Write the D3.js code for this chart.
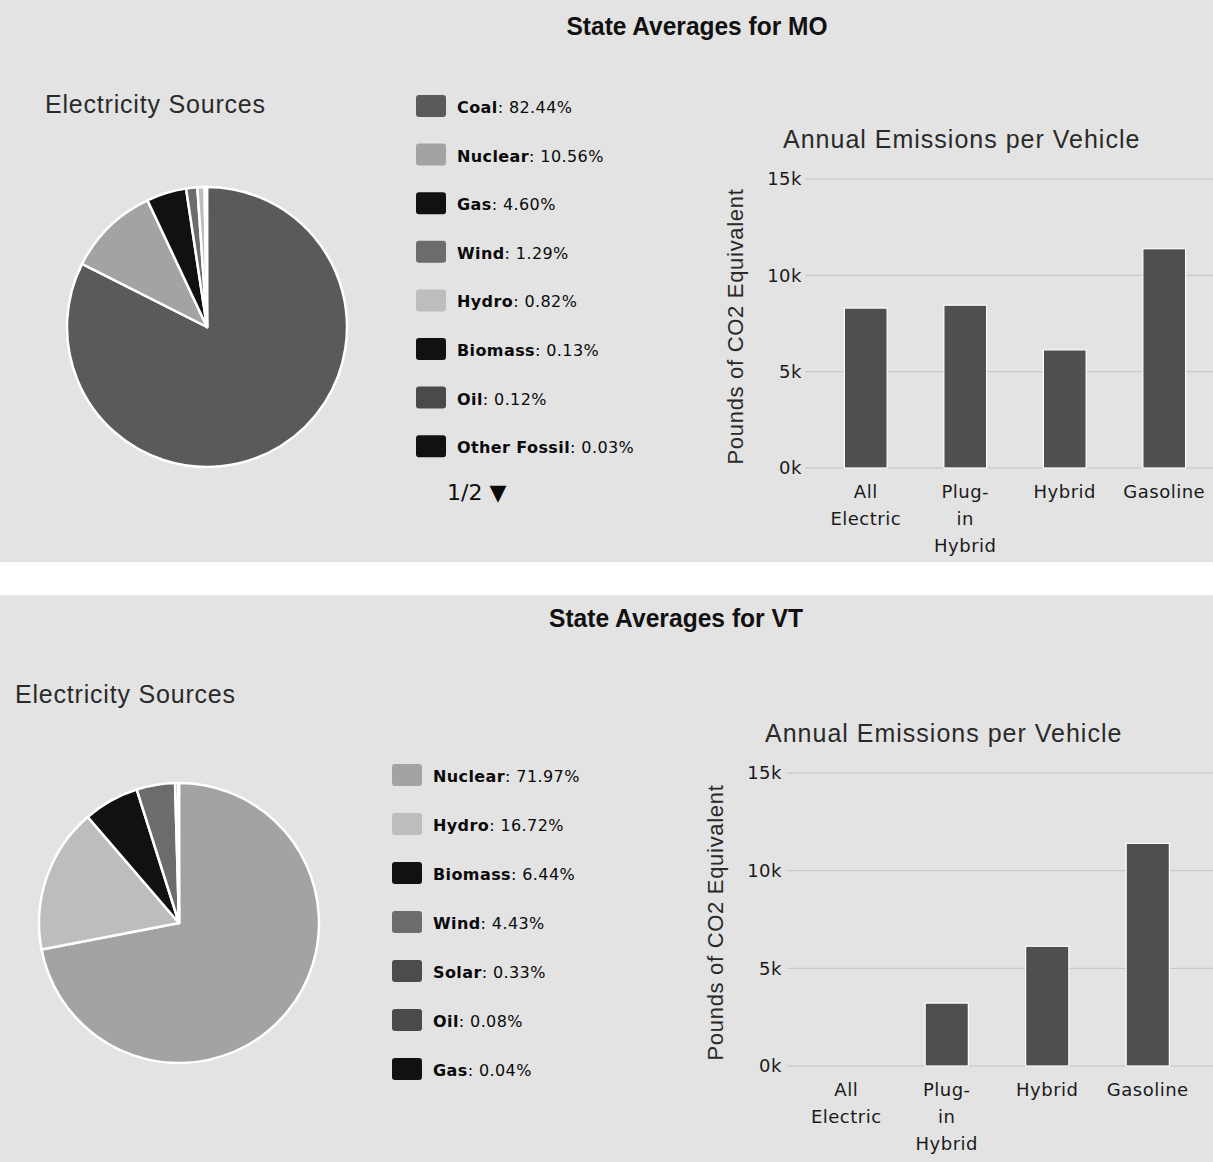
<!DOCTYPE html>
<html>
<head>
<meta charset="utf-8">
<script src="https://cdn.jsdelivr.net/npm/d3@7"></script>
<style>
  html, body { margin: 0; padding: 0; background: #fff; }
  svg { display: block; }
</style>
</head>
<body>
<svg id="chart" width="1213" height="1162"></svg>
<script>
// ---------- DATA ----------
const moSources = ["Coal", "Nuclear", "Gas", "Wind", "Hydro", "Biomass", "Oil", "Other Fossil"];
const moShares  = [82.44, 10.56, 4.60, 1.29, 0.82, 0.13, 0.12, 0.03];
const vtSources = ["Nuclear", "Hydro", "Biomass", "Wind", "Solar", "Oil", "Gas"];
const vtShares  = [71.97, 16.72, 6.44, 4.43, 0.33, 0.08, 0.04];

const vehicleTypes  = ["All Electric", "Plug-in Hybrid", "Hybrid", "Gasoline"];
const vehicleLabels = [["All", "Electric"], ["Plug-", "in", "Hybrid"], ["Hybrid"], ["Gasoline"]];
const moEmissions   = [8300, 8450, 6130, 11380];
const vtEmissions   = [0, 3220, 6130, 11400];
const yTickValues   = [0, 5000, 10000, 15000];
const yTickLabels   = ["0k", "5k", "10k", "15k"];

const panelTitles = ["State Averages for MO", "State Averages for VT"];

const sourceColors = {
  "Coal": "#5a5a5a", "Nuclear": "#a3a3a3", "Gas": "#111111", "Wind": "#6c6c6c",
  "Hydro": "#bdbdbd", "Biomass": "#111111", "Oil": "#4a4a4a", "Other Fossil": "#111111",
  "Solar": "#4c4c4c"
};

// ---------- LAYOUT ----------
const svg = d3.select("#chart");
const sansFont = "'Liberation Sans', Arial, Helvetica, sans-serif";
const uiFont = "'DejaVu Sans', Verdana, sans-serif";

// background bands
svg.append("rect").attr("x", 0).attr("y", 0).attr("width", 1213).attr("height", 562).attr("fill", "#e3e3e3");
svg.append("rect").attr("x", 0).attr("y", 595).attr("width", 1213).attr("height", 567).attr("fill", "#e3e3e3");

const panels = [
  {
    title: panelTitles[0], titleX: 697, titleY: 35, titleLen: 261,
    srcTitleX: 45, srcTitleY: 113,
    pieCx: 207, pieCy: 327, pieR: 140,
    sources: moSources, shares: moShares,
    legX: 416, legY0: 106, legStep: 48.6, pager: true,
    barTitleX: 783, barTitleY: 148,
    y0: 468, y15: 179, xL: 816, xR: 1214, gridX0: 805, tickX: 802, yTitleX: 743,
    values: moEmissions
  },
  {
    title: panelTitles[1], titleX: 676, titleY: 627, titleLen: 254,
    srcTitleX: 15, srcTitleY: 703,
    pieCx: 179, pieCy: 923, pieR: 140,
    sources: vtSources, shares: vtShares,
    legX: 392, legY0: 775, legStep: 49, pager: false,
    barTitleX: 765, barTitleY: 742,
    y0: 1066, y15: 773, xL: 796, xR: 1198, gridX0: 787, tickX: 782, yTitleX: 723,
    values: vtEmissions
  }
];

panels.forEach(p => {
  const g = svg.append("g");

  // header
  g.append("text")
    .attr("x", p.titleX).attr("y", p.titleY)
    .attr("text-anchor", "middle")
    .attr("font-family", "'Liberation Sans Narrow', 'Arial Narrow', " + sansFont)
    .attr("font-weight", "bold").attr("font-size", 26)
    .attr("textLength", p.titleLen).attr("lengthAdjust", "spacingAndGlyphs")
    .attr("fill", "#111")
    .text(p.title);

  // Electricity Sources title
  g.append("text")
    .attr("x", p.srcTitleX).attr("y", p.srcTitleY)
    .attr("font-family", sansFont).attr("font-size", 25)
    .attr("letter-spacing", 0.8)
    .attr("fill", "#2a2a2a")
    .text("Electricity Sources");

  // pie
  const pieData = p.sources.map((s, i) => ({ name: s, value: p.shares[i] }));
  const pie = d3.pie().sort(null).value(d => d.value);
  const arc = d3.arc().innerRadius(0).outerRadius(p.pieR);
  const pg = g.append("g").attr("transform", `translate(${p.pieCx},${p.pieCy})`);
  pg.selectAll("path").data(pie(pieData)).join("path")
    .attr("d", arc)
    .attr("fill", d => sourceColors[d.data.name])
    .attr("stroke", "#ffffff").attr("stroke-width", 2.5)
    .attr("stroke-linejoin", "round");

  // legend
  const lg = g.append("g");
  const items = lg.selectAll("g").data(pieData).join("g")
    .attr("transform", (d, i) => `translate(${p.legX},${p.legY0 + i * p.legStep})`);
  items.append("rect")
    .attr("x", 0).attr("y", -11).attr("width", 30).attr("height", 22)
    .attr("rx", 3).attr("ry", 3)
    .attr("fill", d => sourceColors[d.name]);
  const t = items.append("text")
    .attr("x", 41).attr("y", 7)
    .attr("font-family", uiFont).attr("font-size", 16)
    .attr("letter-spacing", 0.4)
    .attr("fill", "#0a0a0a");
  t.append("tspan").attr("font-weight", "bold").text(d => d.name);
  t.append("tspan").text(d => ": " + d.value.toFixed(2) + "%");

  if (p.pager) {
    g.append("text")
      .attr("x", p.legX + 31).attr("y", p.legY0 + 7 * p.legStep + 54)
      .attr("font-family", uiFont).attr("font-size", 22)
      .attr("fill", "#0a0a0a")
      .text("1/2 ▼");
  }

  // bar chart
  const y = d3.scaleLinear().domain([0, 15000]).range([p.y0, p.y15]);
  const x = d3.scaleBand().domain(vehicleTypes).range([p.xL, p.xR])
    .paddingInner(0.57).paddingOuter(0.285);

  g.append("text")
    .attr("x", p.barTitleX).attr("y", p.barTitleY)
    .attr("font-family", sansFont).attr("font-size", 25)
    .attr("letter-spacing", 1)
    .attr("fill", "#2a2a2a")
    .text("Annual Emissions per Vehicle");

  // grid lines
  g.append("g").selectAll("line").data(yTickValues).join("line")
    .attr("x1", p.gridX0).attr("x2", 1213)
    .attr("y1", d => y(d)).attr("y2", d => y(d))
    .attr("stroke", "#c2c2c2").attr("stroke-width", 1);

  // y axis (labels only)
  const yAxis = d3.axisLeft(y).tickValues(yTickValues)
    .tickFormat((d, i) => yTickLabels[i]).tickSize(0).tickPadding(0);
  const ya = g.append("g").attr("transform", `translate(${p.tickX},0)`).call(yAxis);
  ya.select(".domain").remove();
  ya.selectAll("text")
    .attr("font-family", uiFont).attr("font-size", 18)
    .attr("letter-spacing", 0.5)
    .attr("fill", "#1a1a1a");

  // y title
  g.append("text")
    .attr("transform", `translate(${p.yTitleX},${(p.y0 + p.y15) / 2 + 3}) rotate(-90)`)
    .attr("text-anchor", "middle")
    .attr("font-family", sansFont).attr("font-size", 22)
    .attr("letter-spacing", 0.7)
    .attr("fill", "#2a2a2a")
    .text("Pounds of CO2 Equivalent");

  // bars
  g.append("g").selectAll("rect").data(vehicleTypes).join("rect")
    .attr("x", d => x(d)).attr("width", x.bandwidth())
    .attr("y", (d, i) => y(p.values[i]))
    .attr("height", (d, i) => p.y0 - y(p.values[i]))
    .attr("fill", "#4f4f4f")
    .attr("stroke", "#ffffff").attr("stroke-width", 1.2);

  // x labels
  const xl = g.append("g").selectAll("text").data(vehicleTypes).join("text")
    .attr("x", d => x(d) + x.bandwidth() / 2)
    .attr("y", p.y0 + 30)
    .attr("text-anchor", "middle")
    .attr("font-family", uiFont).attr("font-size", 18)
    .attr("letter-spacing", 0.5)
    .attr("fill", "#1a1a1a");
  xl.each(function(d, i) {
    const el = d3.select(this);
    vehicleLabels[i].forEach((line, j) => {
      el.append("tspan")
        .attr("x", x(d) + x.bandwidth() / 2)
        .attr("dy", j === 0 ? 0 : 27)
        .text(line);
    });
  });
});
</script>
</body>
</html>
